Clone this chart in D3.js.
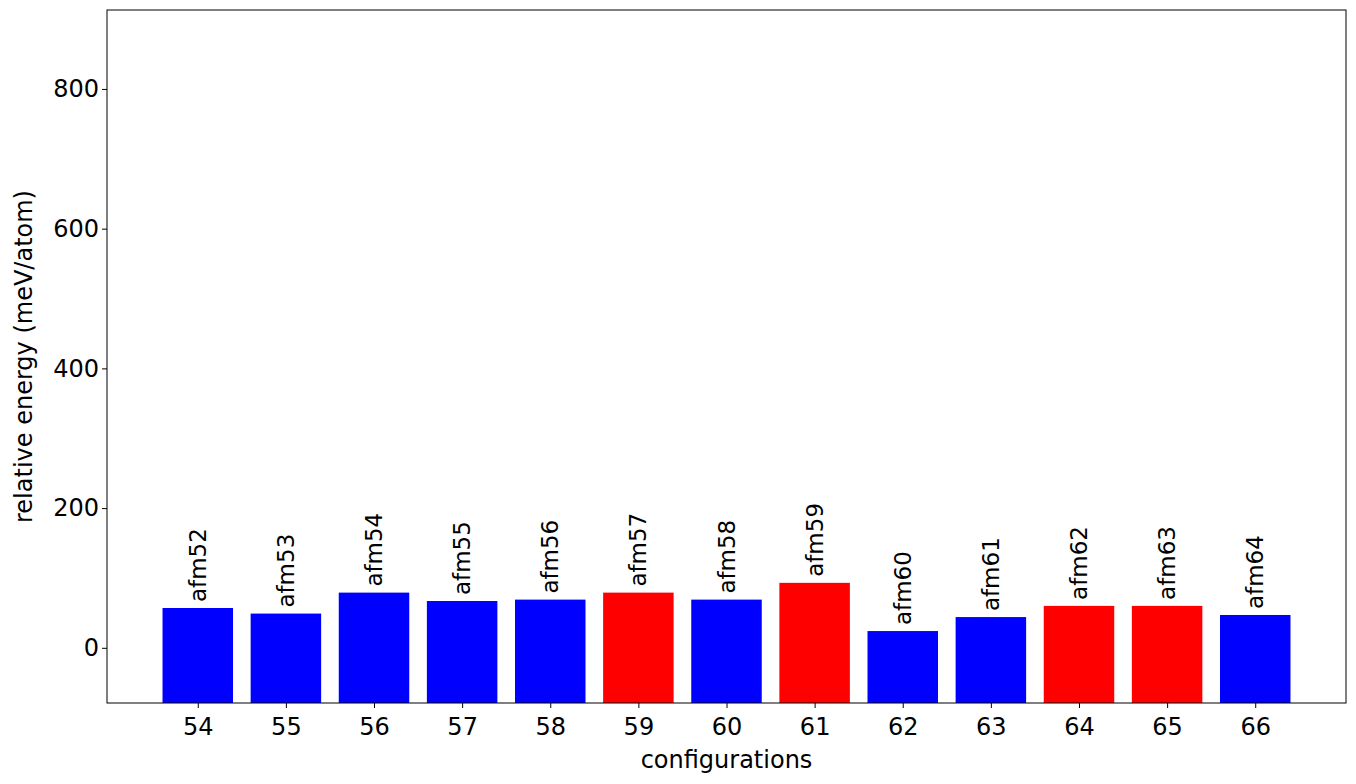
<!DOCTYPE html>
<html><head><meta charset="utf-8">
<script src="https://cdn.jsdelivr.net/npm/d3@7"></script>
<style>body{margin:0;background:#fff}text{font-family:"DejaVu Sans",sans-serif}</style>
</head><body><svg id="c" width="1356" height="784"></svg>
<script>
var configs = [54,55,56,57,58,59,60,61,62,63,64,65,66];
var energies = [57,49,79,67,69,79,69,93,24,44,60,60,47];
var names = ["afm52","afm53","afm54","afm55","afm56","afm57","afm58","afm59","afm60","afm61","afm62","afm63","afm64"];
var colors = ["blue","blue","blue","blue","blue","red","blue","red","blue","blue","red","red","blue"];
var yTicks = [0,200,400,600,800];

var svg = d3.select("#c");
var L = 107, R = 1346, T = 10, B = 703;
var x = d3.scaleLinear().domain([52.97, 67.03]).range([L, R]);
var y = d3.scaleLinear().domain([-79, 913]).range([B, T]);
var bw = x(0.8) - x(0);

svg.selectAll("rect.bar").data(configs).enter().append("rect")
  .attr("x", (d) => x(d) - bw / 2)
  .attr("y", (d, i) => y(energies[i]))
  .attr("width", bw)
  .attr("height", (d, i) => y(-79) - y(energies[i]))
  .attr("fill", (d, i) => colors[i]);

svg.selectAll("text.lab").data(configs).enter().append("text")
  .attr("transform", (d, i) => "translate(" + (x(d) + 8) + "," + (y(energies[i]) - 6) + ") rotate(-90)")
  .attr("font-size", 23).text((d, i) => names[i]);

var xa = svg.append("g").attr("transform", "translate(0," + B + ")")
  .call(d3.axisBottom(x).tickValues(configs).tickFormat(d3.format("d")).tickSizeOuter(0).tickSize(5));
var ya = svg.append("g").attr("transform", "translate(" + L + ",0)")
  .call(d3.axisLeft(y).tickValues(yTicks).tickSizeOuter(0).tickSize(5));
[xa, ya].forEach((a) => { a.select(".domain").remove(); a.selectAll("text").attr("font-size", 24).attr("fill", "#000").style("font-family", "DejaVu Sans"); a.selectAll("line").attr("stroke", "#000"); });
xa.selectAll("text").attr("dy", "1.0em");

svg.append("rect").attr("x", L).attr("y", T).attr("width", R - L).attr("height", B - T)
  .attr("fill", "none").attr("stroke", "#000");

svg.append("text").attr("x", (L + R) / 2).attr("y", 768).attr("text-anchor", "middle")
  .attr("font-size", 24).text("configurations");
svg.append("text").attr("transform", "translate(32," + ((T + B) / 2) + ") rotate(-90)")
  .attr("text-anchor", "middle").attr("font-size", 24).text("relative energy (meV/atom)");
</script></body></html>
